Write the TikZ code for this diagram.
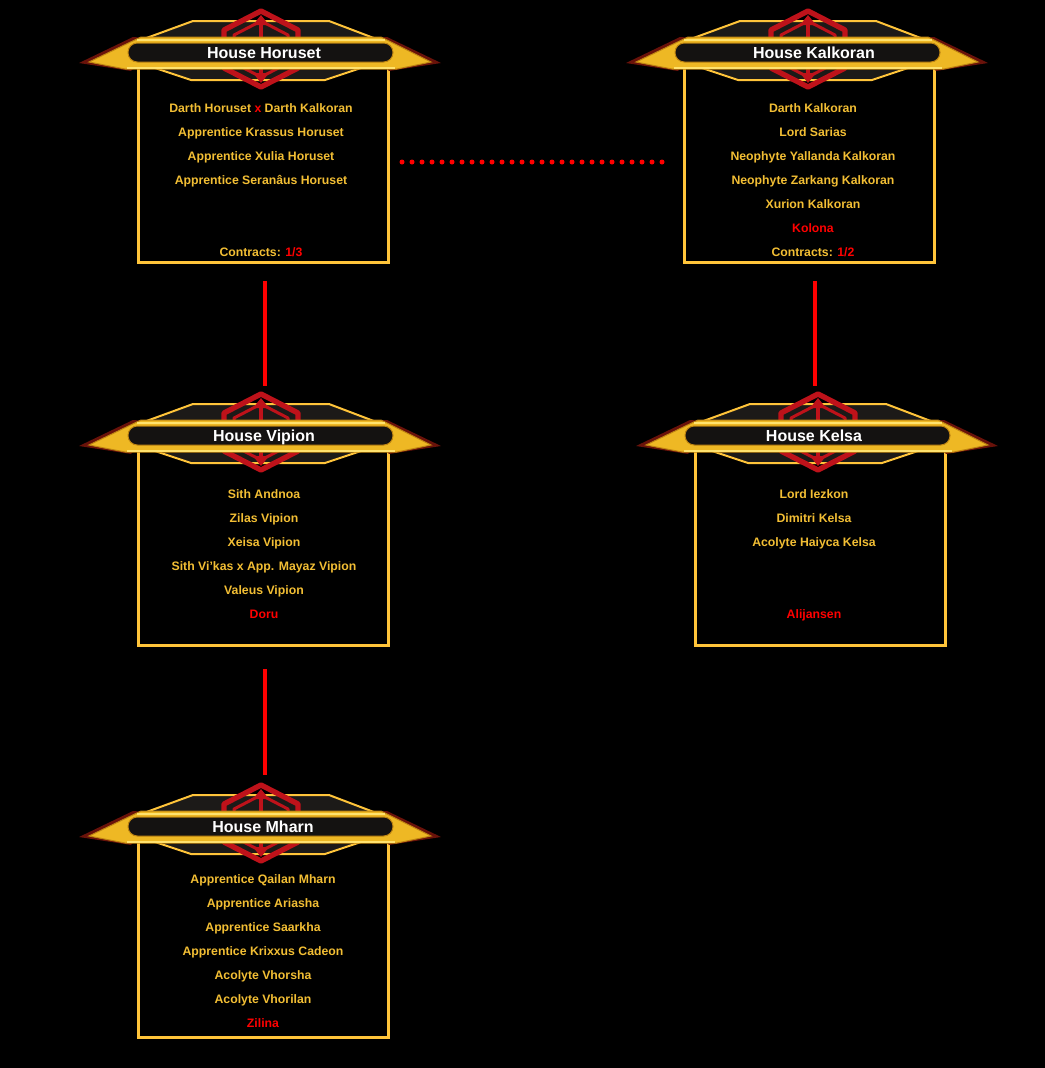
\documentclass[tikz,border=0pt]{standalone}
\usepackage{fontspec}
\setmainfont{Liberation Sans}

\definecolor{boxgold}{RGB}{255,196,58}
\definecolor{txtgold}{RGB}{242,190,52}
\definecolor{sithred}{RGB}{255,0,0}
\definecolor{embred}{RGB}{190,18,26}
\definecolor{accentred}{RGB}{105,18,10}
\definecolor{barfill}{RGB}{238,184,36}
\definecolor{goldlight}{RGB}{255,226,110}
\definecolor{golddark}{RGB}{190,132,18}
\definecolor{platedark}{RGB}{28,26,24}
\definecolor{bardark}{RGB}{20,18,17}

\tikzset{every picture/.style={line width=0.75pt}}
\tikzset{
	housebox/.style={draw=boxgold, line width=2.25pt, minimum width=187.5pt, minimum height=150pt, inner sep=0pt},
	member/.style={text=txtgold, font=\bfseries\fontsize{9.2}{11}\selectfont, inner sep=0pt, text height=8.6pt, text depth=2pt},
	housetitle/.style={text=white, font=\bfseries\fontsize{12}{14}\selectfont, inner sep=0pt, text height=11.6pt, text depth=3pt},
	link/.style={draw=sithred, line width=3pt},
	dots/.style={draw=sithred, line width=3.75pt, line cap=round, dash pattern=on 0pt off 7.5pt},
	pics/banner/.style={code={
		%Shape: end streaks
		\fill[accentred] (-182,-11) -- (-130,-19) -- (-100,13) -- (-128,15) -- cycle;
		\fill[accentred] (180,-11) -- (128,-19) -- (98,13) -- (126,15) -- cycle;
		%Shape: plates
		\filldraw[fill=platedark, draw=boxgold, line width=1.5pt] (-112,-14) -- (-70,-28) -- (64,-28) -- (106,-14) -- cycle;
		\filldraw[fill=platedark, draw=boxgold, line width=1.5pt] (-120,12) -- (-68,31) -- (68,31) -- (118,12) -- cycle;
		%Shape: emblem
		\draw[embred, line width=4pt, line join=round] (0,-35) -- (37,-16) -- (37,22) -- (0,41) -- (-37,22) -- (-37,-16) -- cycle;
		\draw[embred, line width=2.25pt, line join=round] (0,-25) -- (27,-11) -- (27,17) -- (0,31) -- (-27,17) -- (-27,-11) -- cycle;
		\draw[embred, line width=3pt] (0,-28) -- (0,34);
		\fill[embred] (0,-31) -- (8,-21) -- (-8,-21) -- cycle;
		\fill[embred] (0,37) -- (8,27) -- (-8,27) -- cycle;
		%Shape: gold bar
		\filldraw[fill=barfill, draw=golddark] (-172,-10) -- (-136,-17) -- (136,-17) -- (170,-10) -- (120,15) -- (-120,15) -- cycle;
		\draw[goldlight, line width=1.5pt] (-134,-15.5) -- (134,-15.5);
		\draw[goldlight, line width=1.5pt] (-124,12) -- (124,12);
		\filldraw[fill=bardark, draw=golddark, rounded corners=7pt] (-133,-10) rectangle (132,9);
	}}
}

\begin{document}
\begin{tikzpicture}[x=0.75pt,y=0.75pt,yscale=-1,xscale=1]
	\useasboundingbox (0,0) rectangle (1045,1068);
	\fill[black] (0,0) rectangle (1045,1068);

	%Shape: Boxes
	\node[housebox] (horuset) at (263,162) {};
	\node[housebox] (kalkoran) at (809,162) {};
	\node[housebox] (vipion) at (263,545) {};
	\node[housebox] (kelsa) at (820,545) {};
	\node[housebox] (mharn) at (263,937) {};

	%Shape: Banners
	\pic at (261,52) {banner};
	\pic at (808,52) {banner};
	\pic at (261,435) {banner};
	\pic at (818,435) {banner};
	\pic at (261,826) {banner};

	% Text Node
	\node[housetitle] (horuset-title) at (264,53) {House Horuset};
	\node[housetitle] (kalkoran-title) at (814,53) {House Kalkoran};
	\node[housetitle] (vipion-title) at (264,436) {House Vipion};
	\node[housetitle] (kelsa-title) at (814,436) {House Kelsa};
	\node[housetitle] (mharn-title) at (263,827) {House Mharn};

	% Text Node
	\node[member] (hor1) at (261,108) {Darth Horuset {\color{sithred}x} Darth Kalkoran};
	\node[member] (hor2) at (261,132) {Apprentice Krassus Horuset};
	\node[member] (hor3) at (261,156) {Apprentice Xulia Horuset};
	\node[member] (hor4) at (261,180) {Apprentice Seranâus Horuset};
	\node[member] (hor5) at (261,252) {Contracts: {\color{sithred}1/3}};

	% Text Node
	\node[member] (kal1) at (813,108) {Darth Kalkoran};
	\node[member] (kal2) at (813,132) {Lord Sarias};
	\node[member] (kal3) at (813,156) {Neophyte Yallanda Kalkoran};
	\node[member] (kal4) at (813,180) {Neophyte Zarkang Kalkoran};
	\node[member] (kal5) at (813,204) {Xurion Kalkoran};
	\node[member, text=sithred] (kal6) at (813,228) {Kolona};
	\node[member] (kal7) at (813,252) {Contracts: {\color{sithred}1/2}};

	% Text Node
	\node[member] (vip1) at (264,494) {Sith Andnoa};
	\node[member] (vip2) at (264,518) {Zilas Vipion};
	\node[member] (vip3) at (264,542) {Xeisa Vipion};
	\node[member] (vip4) at (264,566) {Sith Vi’kas x App. Mayaz Vipion};
	\node[member] (vip5) at (264,590) {Valeus Vipion};
	\node[member, text=sithred] (vip6) at (264,614) {Doru};

	% Text Node
	\node[member] (kel1) at (814,494) {Lord Iezkon};
	\node[member] (kel2) at (814,518) {Dimitri Kelsa};
	\node[member] (kel3) at (814,542) {Acolyte Haiyca Kelsa};
	\node[member, text=sithred] (kel4) at (814,614) {Alijansen};

	% Text Node
	\node[member] (mha1) at (263,879) {Apprentice Qailan Mharn};
	\node[member] (mha2) at (263,903) {Apprentice Ariasha};
	\node[member] (mha3) at (263,927) {Apprentice Saarkha};
	\node[member] (mha4) at (263,951) {Apprentice Krixxus Cadeon};
	\node[member] (mha5) at (263,975) {Acolyte Vhorsha};
	\node[member] (mha6) at (263,999) {Acolyte Vhorilan};
	\node[member, text=sithred] (mha7) at (263,1023) {Zilina};

	%Straight Lines
	\coordinate (vipion-top) at (265,386);
	\coordinate (kelsa-top) at (815,386);
	\coordinate (mharn-top) at (265,775);
	\draw[link, shorten <=13pt] (horuset.south -| vipion-top) -- (vipion-top);
	\draw[link, shorten <=13pt] (kalkoran.south -| kelsa-top) -- (kelsa-top);
	\draw[link, shorten <=17pt] (vipion.south -| mharn-top) -- (mharn-top);
	%Dotted Line
	\draw[dots, shorten <=9.375pt, shorten >=14.625pt] (horuset.east) -- (kalkoran.west);

\end{tikzpicture}
\end{document}
